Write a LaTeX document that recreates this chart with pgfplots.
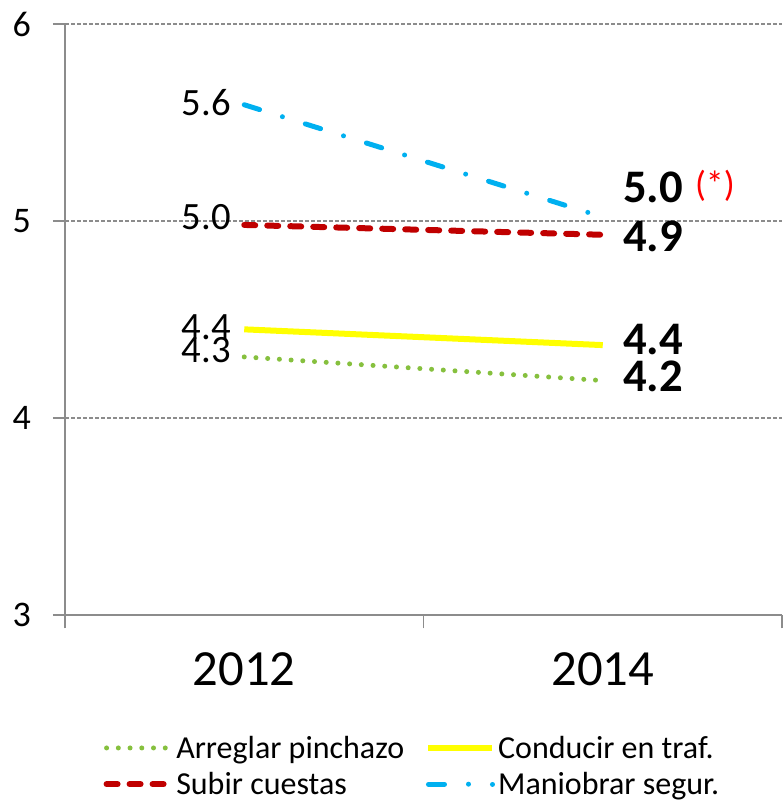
\documentclass[border=0pt]{standalone}
\usepackage{pgfplots}
\pgfplotsset{compat=1.18}
\usepackage{fontspec}
\setmainfont{Carlito}
\definecolor{cgreen}{RGB}{134,192,62}
\definecolor{cyellow}{RGB}{255,255,0}
\definecolor{cred}{RGB}{192,0,0}
\definecolor{cblue}{RGB}{0,176,240}
\definecolor{cgrid}{RGB}{140,140,140}
\begin{document}
\begin{tikzpicture}
\path[use as bounding box] (0,0) rectangle (586.5pt,601.5pt);
\begin{axis}[
  at={(48.75pt,140.25pt)}, anchor=south west,
  scale only axis, width=537.75pt, height=443.25pt,
  xmin=-0.5, xmax=1.5, ymin=3, ymax=6,
  axis x line=bottom, axis y line=left,
  axis line style={-, draw=cgrid, line width=0.9pt},
  ymajorgrids, grid style={cgrid, line width=0.8pt, dash pattern=on 3pt off 1.5pt},
  xtick={0,1}, xticklabels={2012,2014},
  minor xtick={-0.5,0.5,1.5},
  major x tick style={draw=none},
  ytick={3,4,5,6},
  tick style={draw=cgrid, line width=0.9pt},
  tick align=outside,
  major tick length=9pt, minor tick length=10pt,
  /pgf/number format/assume math mode=true,
  yticklabel style={font=\fontsize{27}{32}\selectfont, xshift=-13pt},
  xticklabel style={font=\fontsize{38}{45}\selectfont, yshift=-16pt},
  clip=false,
  legend columns=2,
  legend cell align=left,
  legend image code/.code={\draw[#1] (0pt,0pt) -- (48pt,0pt);},
  legend style={at={(0.485,-0.195)}, anchor=north, draw=none, fill=none,
    font=\fontsize{24}{28}\selectfont,
    /tikz/every even column/.append style={column sep=14pt},
    row sep=5pt},
]
\addplot[cgreen, line width=3.75pt, line cap=round, dash pattern=on 0pt off 8.8pt]
  coordinates {(0,4.31) (1,4.19)};
\addlegendentry{Arreglar pinchazo}
\addplot[cyellow, line width=4.5pt]
  coordinates {(0,4.45) (1,4.37)};
\addlegendentry{Conducir en traf.}
\addplot[cred, line width=4.5pt, line cap=round, dash pattern=on 8.25pt off 9pt]
  coordinates {(0,4.98) (1,4.93)};
\addlegendentry{Subir cuestas}
\addplot[cblue, line width=3.75pt, line cap=round, dash pattern=on 12pt off 18pt on 0pt off 18pt]
  coordinates {(0,5.59) (1,5.02)};
\addlegendentry{Maniobrar segur.}

\node[anchor=east, inner sep=0pt, font=\fontsize{29}{35}\selectfont, xshift=-10pt] at (axis cs:0,5.6) {5.6};
\node[anchor=east, inner sep=0pt, font=\fontsize{29}{35}\selectfont, xshift=-10pt] at (axis cs:0,5.02) {5.0};
\node[anchor=east, inner sep=0pt, font=\fontsize{29}{35}\selectfont, xshift=-10pt] at (axis cs:0,4.46) {4.4};
\node[anchor=east, inner sep=0pt, font=\fontsize{29}{35}\selectfont, xshift=-10pt] at (axis cs:0,4.345) {4.3};

\node[anchor=west, inner sep=0pt, font=\bfseries\fontsize{35}{42}\selectfont, xshift=15pt] at (axis cs:1,5.17) {5.0};
\node[anchor=west, inner sep=0pt, font=\bfseries\fontsize{35}{42}\selectfont, xshift=15pt] at (axis cs:1,4.92) {4.9};
\node[anchor=west, inner sep=0pt, font=\bfseries\fontsize{35}{42}\selectfont, xshift=15pt] at (axis cs:1,4.40) {4.4};
\node[anchor=west, inner sep=0pt, font=\bfseries\fontsize{35}{42}\selectfont, xshift=15pt] at (axis cs:1,4.21) {4.2};
\node[anchor=west, inner sep=0pt, text=red, font=\fontsize{27}{32}\selectfont, xshift=69pt] at (axis cs:1,5.18) {(*)};
\end{axis}
\end{tikzpicture}
\end{document}
